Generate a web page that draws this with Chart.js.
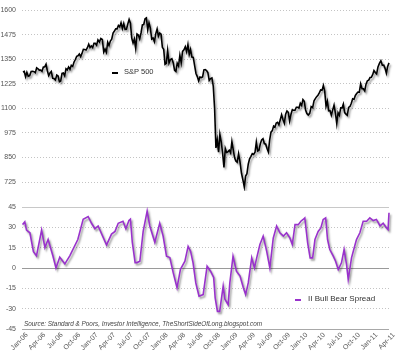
<!DOCTYPE html>
<html><head><meta charset="utf-8">
<script src="https://cdn.jsdelivr.net/npm/chart.js@4.4.0/dist/chart.umd.min.js"></script>
<style>
html,body{margin:0;padding:0;background:#fff;}
#wrap{position:relative;width:400px;height:356px;overflow:hidden;font-family:"Liberation Sans",Arial,sans-serif;}
canvas{position:absolute;left:0;}
#c1{top:0}
#c2{top:195px}
.leg{position:absolute;font-size:8px;color:#333;white-space:nowrap;line-height:10px;}
.dash{position:absolute;width:6px;height:2px;}
#src{position:absolute;left:24px;top:320px;font-size:6.4px;font-style:italic;color:#444;white-space:nowrap;}
</style></head>
<body>
<div id="wrap">
<canvas id="c1" width="400" height="200"></canvas>
<canvas id="c2" width="400" height="161"></canvas>
<div class="dash" style="left:112px;top:72px;background:#000"></div>
<div class="leg" style="left:124px;top:67px;font-size:7.5px">S&amp;P 500</div>
<div class="dash" style="left:295px;top:299px;background:#9932CC"></div>
<div class="leg" style="left:308px;top:294px">II Bull Bear Spread</div>
<div id="src">Source: Standard &amp; Poors, Investor Intelligence, TheShortSideOfLong.blogspot.com</div>
</div>
<script>
// ---- DATA ----
const tickLabels = ['Jan-06','Apr-06','Jul-06','Oct-06','Jan-07','Apr-07','Jul-07','Oct-07','Jan-08','Apr-08','Jul-08','Oct-08','Jan-09','Apr-09','Jul-09','Oct-09','Jan-10','Apr-10','Jul-10','Oct-10','Jan-11','Apr-11'];
const spTicks = [725,850,975,1100,1225,1350,1475,1600];
const iiTicks = [-45,-30,-15,0,15,30,45];

// S&P 500 weekly closes, first week 2006-01-06
const spStart = '2006-01-06';
const spValues = [
1285,1288,1261,1284,1264,1267,1288,1289,1287,1282,1307,1302,1295,1295,1289,1311,1311,1325,1291,1267,1280,1288,1253,1252,1245,1270,1265,1236,1240,1278,1280,1266,1302,1296,1311,1299,1319,1314,1336,1349,1365,1368,1377,1364,1380,1401,1400,1397,1409,1427,1410,1418,
1410,1431,1431,1422,1449,1438,1456,1451,1387,1402,1386,1437,1421,1443,1452,1484,1494,1505,1505,1522,1515,1536,1507,1532,1502,1503,1530,1553,1534,1458,1433,1453,1406,1479,1474,1454,1484,1525,1527,1557,1561,1501,1535,1509,1453,1458,1440,1481,1504,1468,1484,1478,
1411,1401,1325,1330,1395,1331,1349,1353,1331,1294,1288,1330,1316,1370,1332,1390,1398,1414,1389,1425,1375,1400,1361,1360,1318,1278,1262,1240,1260,1257,1260,1296,1298,1293,1283,1242,1252,1255,1213,1099,899,940,877,968,930,873,800,896,876,879,887,873,
931,890,850,832,826,869,827,770,735,700,756,768,816,843,856,870,866,877,929,883,887,919,940,946,921,918,896,879,940,979,987,1010,1005,1026,1029,1016,1042,1068,1044,1025,1071,1087,1080,1036,1069,1093,1091,1091,1106,1106,1102,1126,
1115,1145,1136,1092,1074,1066,1075,1109,1104,1139,1150,1160,1167,1179,1194,1192,1217,1187,1111,1136,1088,1089,1065,1092,1117,1076,1023,1078,1065,1103,1102,1122,1079,1071,1065,1105,1110,1126,1149,1147,1166,1176,1183,1183,1225,1200,1200,1189,1225,1240,1244,1257,1258,
1272,1293,1283,1276,1311,1329,1343,1320,1321,1304,1279,1314,1332
];

// Investors Intelligence bull-bear spread
const iiDates = [
'2006-01-04','2006-01-16','2006-01-25','2006-02-11','2006-02-28','2006-03-16','2006-04-12','2006-04-29','2006-05-16','2006-06-10','2006-06-26','2006-07-16','2006-08-12','2006-09-07','2006-10-19','2006-11-16','2006-12-12','2006-12-30',
'2007-01-17','2007-02-03','2007-03-17','2007-04-12','2007-04-30','2007-05-17','2007-06-11','2007-06-26','2007-07-12','2007-07-20','2007-07-30','2007-08-14','2007-08-24','2007-09-08','2007-09-25','2007-10-16','2007-10-30','2007-11-25','2007-12-21',
'2008-01-08','2008-01-26','2008-02-12','2008-02-29','2008-03-20','2008-04-07','2008-04-30','2008-05-17','2008-05-30','2008-06-12','2008-06-26','2008-07-13','2008-08-04','2008-08-25','2008-09-12','2008-09-28','2008-10-06','2008-10-18','2008-10-30','2008-11-17','2008-11-26','2008-12-13','2008-12-22',
'2009-01-08','2009-01-26','2009-02-13','2009-03-01','2009-03-13','2009-03-27','2009-04-14','2009-04-28','2009-05-10','2009-05-27','2009-06-13','2009-07-01','2009-07-18','2009-08-05','2009-08-23','2009-09-09','2009-09-27','2009-10-14','2009-11-01','2009-11-13','2009-11-27','2009-12-14','2009-12-28',
'2010-01-09','2010-01-18','2010-02-02','2010-02-14','2010-02-26','2010-03-10','2010-03-27','2010-04-10','2010-04-22','2010-05-05','2010-05-15','2010-05-27','2010-06-14','2010-06-26','2010-07-10','2010-07-27','2010-08-10','2010-08-23','2010-09-01','2010-09-18','2010-10-02','2010-10-14','2010-11-01','2010-11-18','2010-12-06','2010-12-23',
'2011-01-10','2011-01-27','2011-02-14','2011-03-01','2011-03-19','2011-03-27','2011-04-01'
];
const iiValues = [
32,34,28,26,12,9,28,15,21,9,0,8,3,9,21,36,38,33,
29,31,17,25,27,33,34.5,29,35,36,19,4,4,5,27,42,31,19,33,
23.5,8.7,7.7,-3.6,-14.6,-1,5,16,12.4,3.8,-11,-20.8,-19.6,1.3,-2.4,-7,-22,-32,-32,-13.4,-23,-27,-11,
8.7,-2.4,-6,-14.6,-19.6,-11,7.5,0,7.5,17.3,23.5,12.4,0,22,31,26,23.5,26,22,17.3,32,32,34.5,
35.8,37,18.6,7.5,7.5,21,27,29.6,35.8,37,21,13.6,8.7,5,-1.1,3.8,13.6,2.6,-8.5,7.5,14.9,21,26,34.5,34.5,37,
35,35.8,31,33,29.6,28.4,40.7
];

// ---- helpers ----
function toMonths(ms){
  const d=new Date(ms);const y=d.getUTCFullYear(),m=d.getUTCMonth(),day=d.getUTCDate();
  const dim=new Date(Date.UTC(y,m+1,0)).getUTCDate();
  return (y-2006)*12+m+(day-1)/dim;
}
function parseDate(s){const p=s.split('-').map(Number);return Date.UTC(p[0],p[1]-1,p[2]);}
const startMs=parseDate(spStart);
const spData=spValues.map((v,i)=>({x:toMonths(startMs+i*7*86400000),y:v}));
const iiData=iiDates.map((d,i)=>({x:toMonths(parseDate(d)),y:iiValues[i]}));
const xMax=(tickLabels.length-1)*3;

const shadow={id:'shadow',
  beforeDatasetDraw(chart){const c=chart.ctx;c.save();c.shadowColor='rgba(0,0,0,0.4)';c.shadowBlur=2;c.shadowOffsetX=1.5;c.shadowOffsetY=2;},
  afterDatasetDraw(chart){chart.ctx.restore();}
};
const tickFont={family:'"Liberation Sans", Arial, sans-serif',size:7};
const dotted=[1,2];

new Chart(document.getElementById('c1'),{
  type:'line',
  data:{datasets:[{data:spData,borderColor:'#000',borderWidth:1.6,pointRadius:0,tension:0,clip:4}]},
  options:{responsive:false,animation:false,
    layout:{padding:{top:7,right:11,bottom:13,left:0}},
    plugins:{legend:{display:false},tooltip:{enabled:false}},
    scales:{
      x:{type:'linear',min:0,max:xMax,display:false},
      y:{min:700,max:1600,
        afterBuildTicks:s=>{s.ticks=spTicks.map(v=>({value:v}));},
        afterFit:s=>{s.width=22;},
        ticks:{font:tickFont,color:'#555',padding:6,callback:v=>String(v)},
        grid:{color:'#c4c4c4',lineWidth:1,drawTicks:false},
        border:{display:false,dash:dotted}
      }
    }
  },
  plugins:[shadow]
});

new Chart(document.getElementById('c2'),{
  type:'line',
  data:{datasets:[{data:iiData,borderColor:'#9932CC',borderWidth:1.6,pointRadius:0,tension:0,clip:4}]},
  options:{responsive:false,animation:false,
    layout:{padding:{top:12,right:11,bottom:0,left:0}},
    plugins:{legend:{display:false},tooltip:{enabled:false}},
    scales:{
      x:{type:'linear',min:0,max:xMax,
        afterBuildTicks:s=>{s.ticks=tickLabels.map((l,i)=>({value:i*3}));},
        afterFit:s=>{s.height=27;},
        ticks:{font:tickFont,color:'#555',minRotation:45,maxRotation:45,autoSkip:false,padding:2,labelOffset:5,
          callback:(v)=>tickLabels[Math.round(v/3)]},
        grid:{display:false,drawTicks:false},
        border:{display:false}
      },
      y:{min:-45,max:45,
        afterBuildTicks:s=>{s.ticks=iiTicks.map(v=>({value:v}));},
        afterFit:s=>{s.width=22;},
        ticks:{font:tickFont,color:'#555',padding:6,callback:v=>String(v)},
        grid:{drawTicks:false,lineWidth:1,
          color:c=>c.tick.value===0?'#9a9a9a':(c.tick.value===-45?'#a8a8a8':(c.tick.value===45?'#c8c8c8':'#c4c4c4'))},
        border:{display:false,dash:c=>(Math.abs(c.tick.value)===45||c.tick.value===0)?[]:dotted}
      }
    }
  },
  plugins:[shadow]
});
</script>
</body></html>
